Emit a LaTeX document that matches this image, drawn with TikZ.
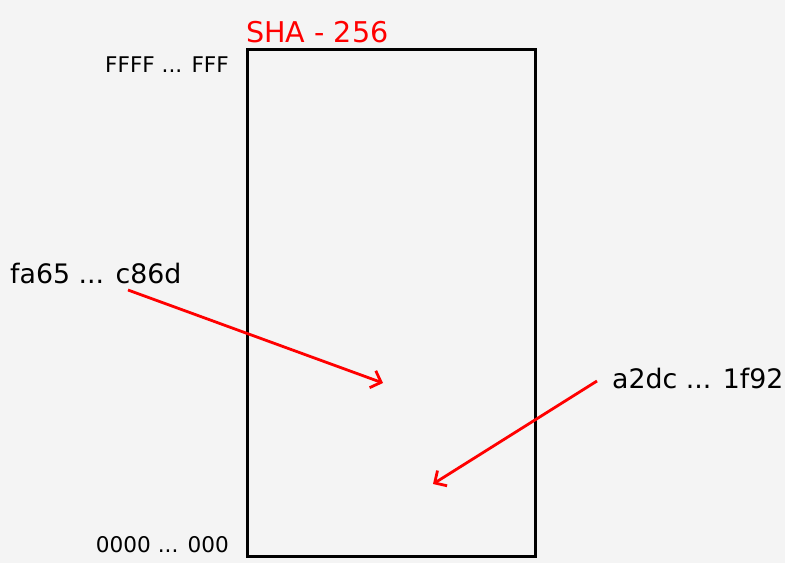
\documentclass[tikz,border=0pt]{standalone}
\usepackage{fontspec}
\setmainfont{DejaVu Sans}
\usetikzlibrary{arrows.meta}
\definecolor{bg}{HTML}{F4F4F4}
\definecolor{hred}{HTML}{FF0000}
\begin{document}
\begin{tikzpicture}[x=1pt,y=-1pt,
  lbl/.style={inner sep=0pt,font=\fontsize{26.8}{30}\selectfont},
  small/.style={inner sep=0pt,font=\fontsize{21.6}{25}\selectfont},
  title/.style={inner sep=0pt,font=\fontsize{28.6}{32}\selectfont,text=hred},
  hasharrow/.style={draw=hred,line width=2.8pt,-{Straight Barb[length=9pt,width=18pt,line width=2.8pt]}}]
\fill[bg] (0,0) rectangle (785,563);
\useasboundingbox (0,0) rectangle (785,563);
\node[draw,line width=2.6pt,minimum width=288pt,minimum height=507pt,anchor=north west,inner sep=0pt] (box) at (246,48) {};
\node[title,anchor=base west] (sha) at (246,42) {SHA - 256};
\node[small,anchor=base east] (top) at (229,72) {FFFF ... FFF};
\node[small,anchor=base east] (bot) at (229,552) {0000 ... 000};
\node[lbl,anchor=base west] (h1) at (10,283) {fa65 ... c86d};
\node[lbl,anchor=base west] (h2) at (612,388) {a2dc ... 1f92};
\coordinate (s1) at (128,290);
\coordinate (e1) at (383,383);
\coordinate (s2) at (597,381);
\coordinate (e2) at (433,484);
\draw[hasharrow] (s1) -- (e1);
\draw[hasharrow] (s2) -- (e2);
\end{tikzpicture}
\end{document}
